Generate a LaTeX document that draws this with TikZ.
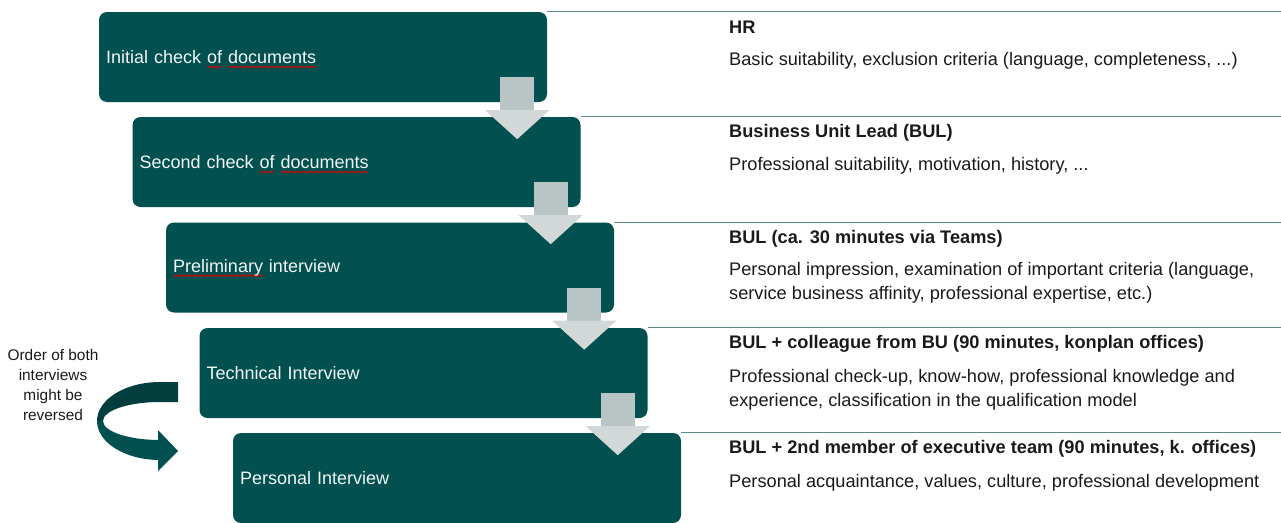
\documentclass[tikz,border=0pt]{standalone}
\usepackage{fontspec}
\setmainfont{Liberation Sans}
\usetikzlibrary{calc,positioning,decorations.pathmorphing}
\definecolor{boxteal}{HTML}{02504F}
\definecolor{turnteal}{HTML}{033E3E}
\definecolor{rulecol}{HTML}{5B8A89}
\definecolor{shaftgray}{HTML}{B9C5C4}
\definecolor{headgray}{HTML}{D1D8D7}
\definecolor{textwhite}{HTML}{F4F6F6}
\definecolor{textdark}{HTML}{1A1A1A}
\newcommand\squig[1]{\setbox0\hbox{#1}\rlap{\tikz[overlay]\draw[red!90!black,fill=none,sharp corners,line width=0.7pt,decorate,decoration={snake,amplitude=0.9pt,segment length=3pt}] (0pt,-3.5pt) -- (\wd0,-3.5pt);}#1}

\begin{document}
\begin{tikzpicture}[x=1pt,y=-1pt,
	stage/.style={fill=boxteal,rounded corners=8pt,minimum width=448pt,minimum height=90pt,text width=434pt,inner xsep=7pt,align=left,text=textwhite,font=\fontsize{18}{21}\selectfont},
	rule/.style={draw=rulecol,line width=1.3pt},
	title/.style={anchor=west,inner sep=0pt,text=textdark,font=\fontsize{18.2}{24}\selectfont\bfseries},
	descr/.style={anchor=west,inner sep=0pt,text=textdark,align=left,font=\fontsize{18.2}{24}\selectfont},
	note/.style={align=center,inner sep=0pt,text=textdark,font=\fontsize{15.4}{20}\selectfont}]
			\useasboundingbox (0,0) rectangle (1281,522);
			\coordinate (edge) at (1281,0);
			\node[stage] (s1) at (323,57) {Initial check \squig{of} \squig{documents}};
			\node[stage] (s2) at (356.5,162) {Second check \squig{of} \squig{documents}};
			\node[stage] (s3) at (390,267.5) {\squig{Preliminary} interview};
			\node[stage] (s4) at (423.5,373) {Technical Interview};
			\node[stage] (s5) at (457,478) {Personal Interview};
			\draw[rule] (s1.north east) -- (s1.north east -| edge);
			\draw[rule] (s2.north east) -- (s2.north east -| edge);
			\draw[rule] (s3.north east) -- (s3.north east -| edge);
			\draw[rule] (s4.north east) -- (s4.north east -| edge);
			\draw[rule] (s5.north east) -- (s5.north east -| edge);
			\coordinate (a1) at ($(s1.south east)+(-30,-25)$);
			\coordinate (a2) at ($(s2.south east)+(-30,-25)$);
			\coordinate (a3) at ($(s3.south east)+(-30,-25)$);
			\coordinate (a4) at ($(s4.south east)+(-30,-25)$);
			\fill[shaftgray] (a1) ++(-17,0) rectangle ++(34,33);
			\fill[headgray] (a1) ++(-32,33) -- ++(64,0) -- ++(-32,29) -- cycle;
			\fill[shaftgray] (a2) ++(-17,0) rectangle ++(34,33);
			\fill[headgray] (a2) ++(-32,33) -- ++(64,0) -- ++(-32,29) -- cycle;
			\fill[shaftgray] (a3) ++(-17,0) rectangle ++(34,33);
			\fill[headgray] (a3) ++(-32,33) -- ++(64,0) -- ++(-32,29) -- cycle;
			\fill[shaftgray] (a4) ++(-17,0) rectangle ++(34,33);
			\fill[headgray] (a4) ++(-32,33) -- ++(64,0) -- ++(-32,29) -- cycle;
			\node[title] (t1) at (729,27) {HR};
			\node[descr] (d1) at (729,61) {Basic suitability, exclusion criteria (language, completeness, ...)};
			\node[title] (t2) at (729,133) {Business Unit Lead (BUL)};
			\node[descr] (d2) at (729,166) {Professional suitability, motivation, history, ...};
			\node[title] (t3) at (729,239) {BUL (ca. 30 minutes via Teams)};
			\node[descr] (d3) at (729,283) {Personal impression, examination of important criteria (language,\\service business affinity, professional expertise, etc.)};
			\node[title] (t4) at (729,344) {BUL + colleague from BU (90 minutes, konplan offices)};
			\node[descr] (d4) at (729,390) {Professional check-up, know-how, professional knowledge and\\experience, classification in the qualification model};
			\node[title] (t5) at (729,449) {BUL + 2nd member of executive team (90 minutes, k. offices)};
			\node[descr] (d5) at (729,483) {Personal acquaintance, values, culture, professional development};
			\node[note] (n1) at (53,385) {Order of both\\interviews\\might be\\reversed};
			\fill[turnteal] (178,382) -- (160,382) arc[start angle=270,end angle=180,x radius=63,y radius=39] -- (103,421) arc[start angle=180,end angle=270,x radius=57,y radius=19] -- (178,402) -- cycle;
			\fill[boxteal] (97,421) arc[start angle=180,end angle=90,x radius=63,y radius=39] -- (158,460) -- (158,471) -- (178,451) -- (158,430) -- (158,440) -- (160,440) arc[start angle=90,end angle=180,x radius=57,y radius=19] -- cycle;
		\end{tikzpicture}
\end{document}
